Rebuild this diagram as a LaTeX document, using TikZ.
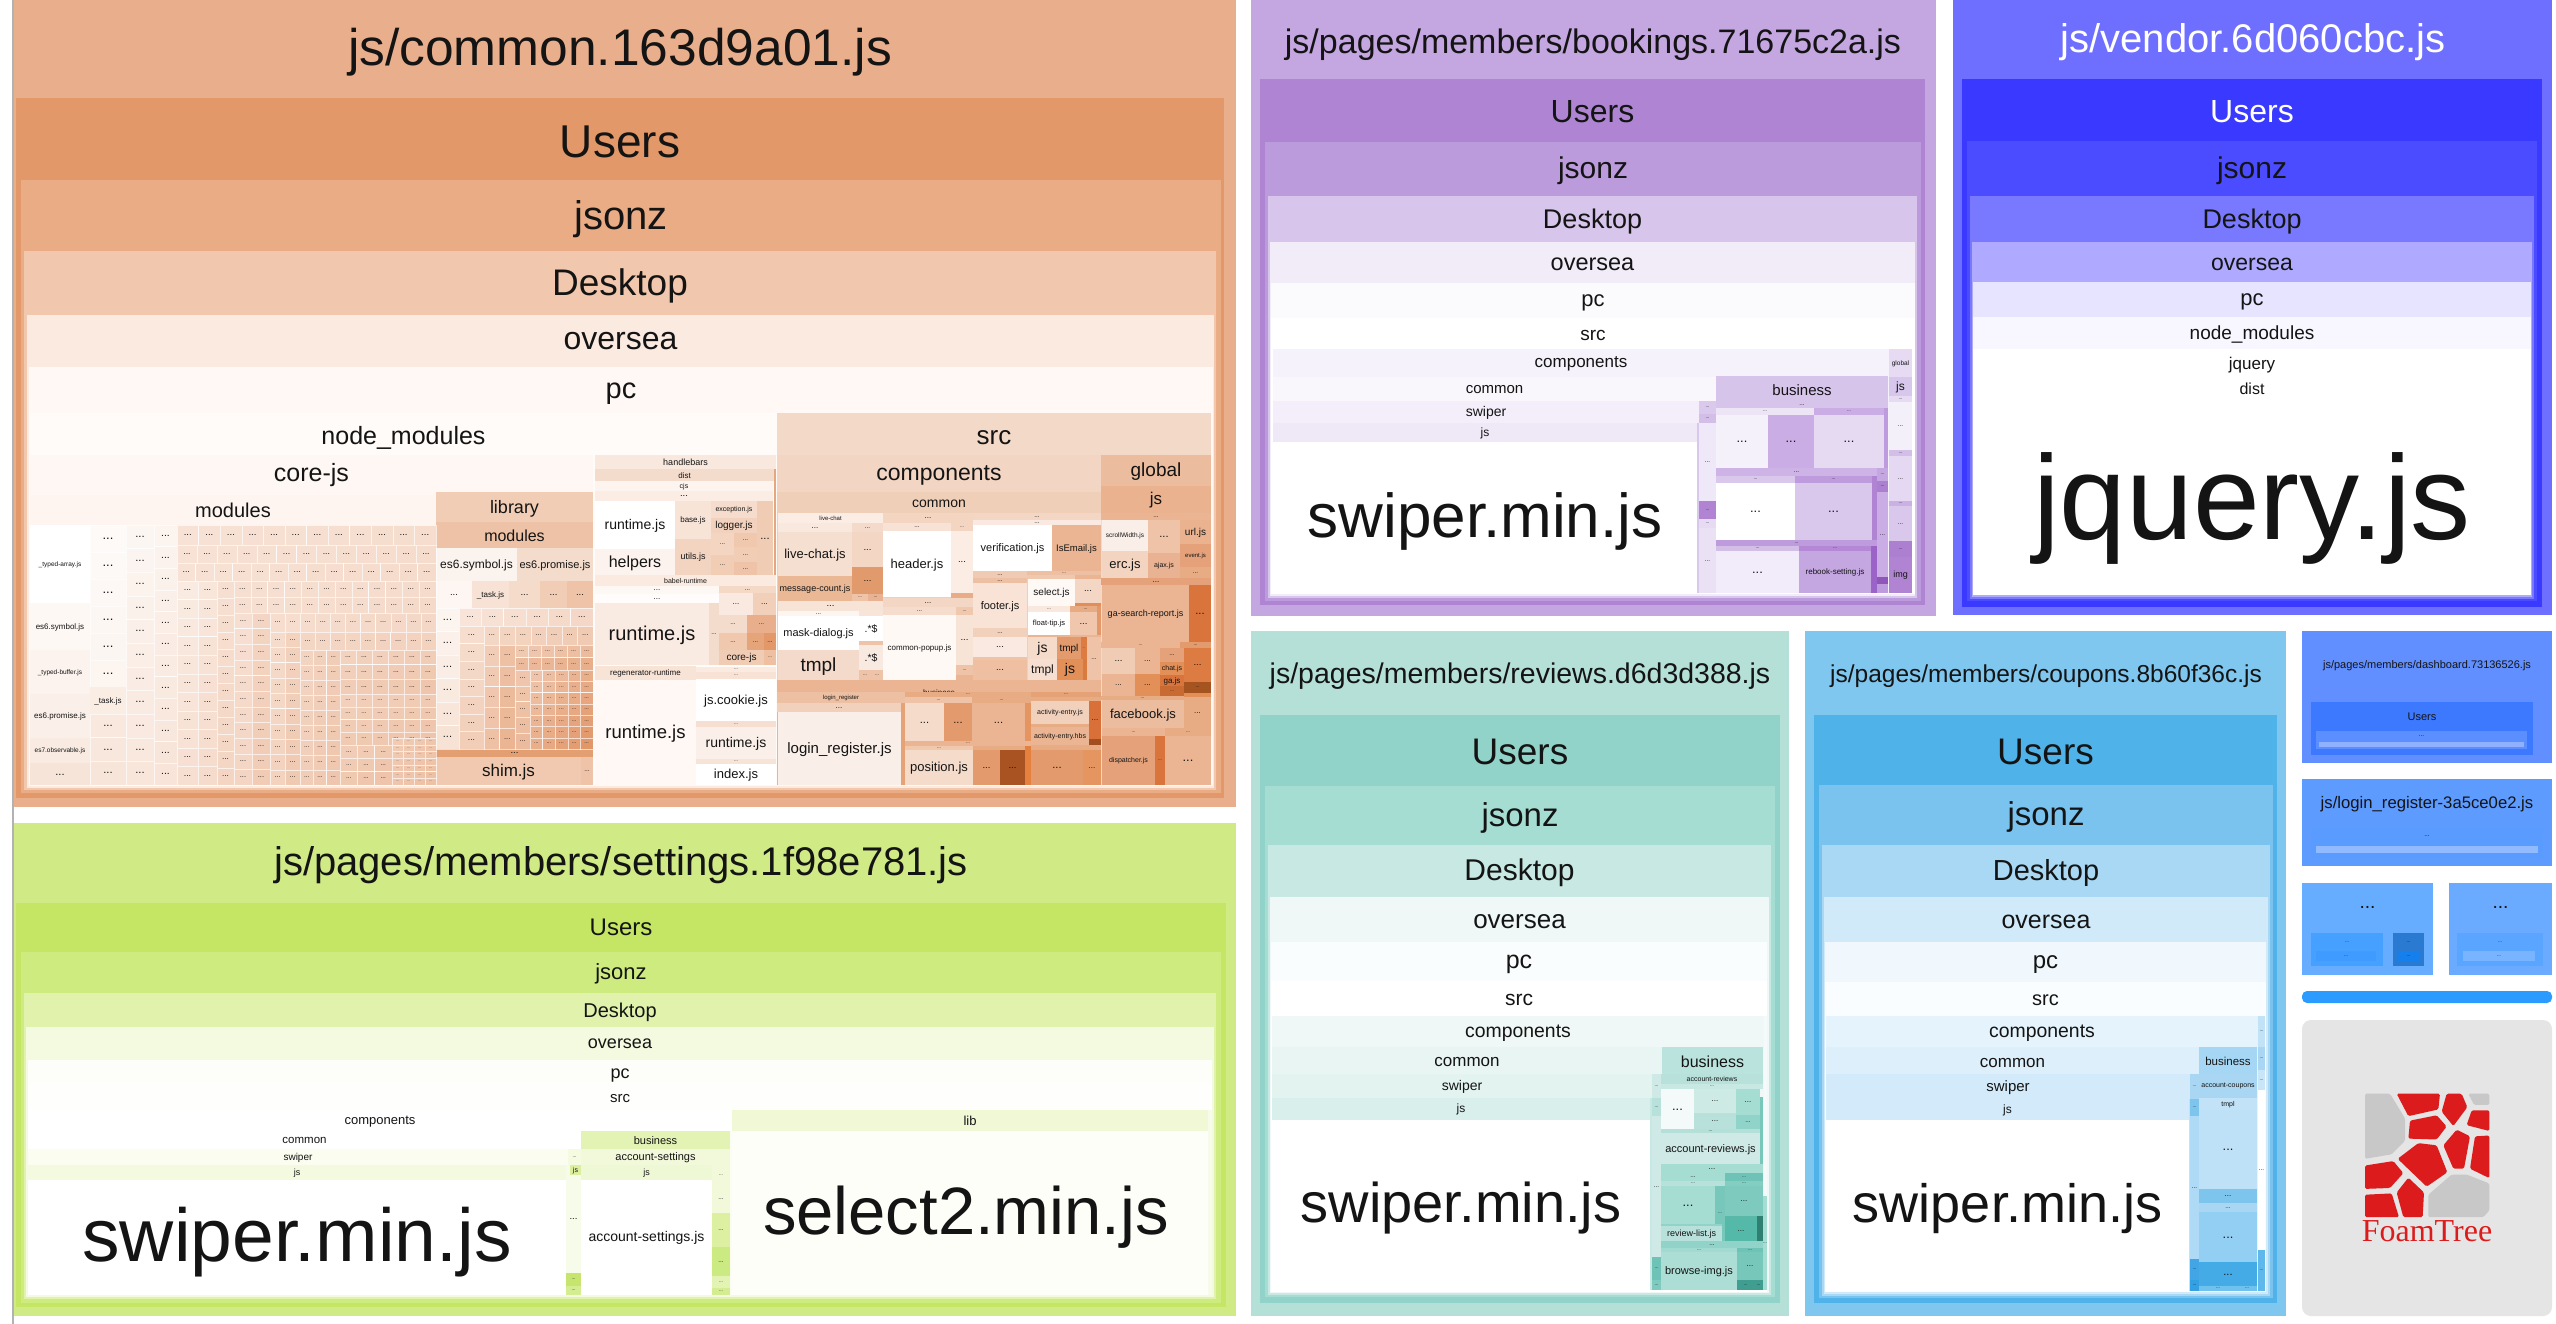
\documentclass[tikz,border=0pt]{standalone}
\usepackage{fontspec}
\setmainfont{Liberation Sans}
\newfontfamily\logofont{Liberation Serif}
\definecolor{gridtone}{HTML}{E08E5C}
\definecolor{foamred}{HTML}{DC1C1C}
\definecolor{foamgray}{HTML}{C8C8C8}
\definecolor{labtone}{HTML}{141414}
\definecolor{barblue}{HTML}{2B9BFF}
\tikzset{
    treelab/.style={inner sep=0pt,text=labtone},
    filelab/.style={inner sep=0pt,text=labtone},
    redcell/.style={fill=foamred,rounded corners=1.5pt},
    graycell/.style={fill=foamgray,rounded corners=1.5pt}
}
\def\dd{\fontsize{1.6em}{1.6em}\selectfont ...}
\newcommand{\cells}[1]{%
  \foreach \xa/\ya/\xb/\yb/\hd/\tone/\fs/\lab in {#1}{%
    \definecolor{celltone}{HTML}{\tone}%
    \fill[celltone] (\xa,\ya) rectangle (\xb,\yb);%
    \ifdim\fs pt>0pt\relax
      \pgfmathsetmacro\lx{(\xa+\xb)/2}%
      \pgfmathsetmacro\ly{(\hd>0 ? \ya+\hd/2 : (\ya+\yb)/2)+.06*\fs}%
      \node[treelab,font=\fontsize{\fs}{\fs}\selectfont] at (\lx,\ly) {\lab};%
    \fi
  }%
}
\newcommand{\treegrid}[8]{%
  \pgfmathsetmacro\cw{(#3-#1)/#5}%
  \pgfmathsetmacro\ch{(#4-#2)/#6}%
  \pgfmathsetmacro\gf{0.3*min(\cw,\ch)}%
  \pgfmathtruncatemacro\ncl{#5-1}%
  \pgfmathtruncatemacro\nrl{#6-1}%
  \foreach \i in {0,...,\ncl}{%
    \foreach \j in {0,...,\nrl}{%
      \pgfmathsetmacro\mixv{#7+(#8-#7)*(\i/max(\ncl,1)+\j/max(\nrl,1))/2}%
      \fill[gridtone!\mixv!white] ({#1+\i*\cw},{#2+\j*\ch}) rectangle ({#1+(\i+1)*\cw},{#2+(\j+1)*\ch});%
      \draw[white,draw opacity=.65,line width=.35pt] ({#1+\i*\cw},{#2+\j*\ch}) rectangle ({#1+(\i+1)*\cw},{#2+(\j+1)*\ch});%
      \node[treelab,font=\fontsize{\gf}{\gf}\selectfont] at ({#1+(\i+.5)*\cw},{#2+(\j+.5)*\ch}) {\dd};%
    }%
  }%
}
\begin{document}
\begin{tikzpicture}[x=1pt,y=-1pt]
\useasboundingbox (0,0) rectangle (2556,1324);
\fill[white] (0,0) rectangle (2556,1324);
\fill[gray!60] (12,0) rectangle (14,1324);
\cells{14/0/1236/807/0/E9AE8C/0/{},
16/98/1224/798/82/E29868/46/Users,
21/180/1221/793/74/E9AC84/40/jsonz,
24/251/1216/790/66/F1C8AE/37/Desktop,
27/315/1214/788/48/FBEAE0/32/oversea,
29/367/1213/786/50/FFF8F5/29/pc,
30/413/777/785/46/FFFBF9/25/node\_modules,
30/455/593/785/38/FEF7F3/25/core-js,
30/495/436/785/28/FEF5F0/20/modules,
436/492/593/522/32/F1CDB6/18/library,
436/522/593/548/26/EEC2A6/16/modules,
436/548/517/581/0/FBF3EE/12/es6.symbol.js,
517/548/593/581/0/F4DCCC/11/es6.promise.js,
30/525/90/603/0/FFFFFF/6.5/\_typed-array.js,
30/603/90/650/0/FEF8F5/8/es6.symbol.js,
30/650/90/694/0/FCF3EE/6.5/\_typed-buffer.js,
30/694/90/738/0/FAEFE9/8/es6.promise.js,
30/738/90/763/0/F9EBE2/6.5/es7.observable.js,
30/763/90/785/0/F7E4D8/7/\dd,
436/581/472/608/0/FDF6F2/6/\dd,
472/581/509/608/0/F7E2D5/8/\_task.js,
509/581/540/608/0/F5DBCA/6/\dd,
540/581/567/608/0/F1CDB6/6/\dd,
567/581/593/608/0/EEC3A7/6/\dd,
436/749/593/757/0/E39E72/6/\dd,
436/757/581/785/0/F0C9B0/17/shim.js,
581/757/593/785/0/EFC3A7/4/\dd}
\treegrid{90}{525}{126}{687}{1}{6}{4}{14}
\treegrid{90}{714}{126}{785}{1}{3}{20}{26}
\cells{90/687/126/714/0/FAEDE4/8/\_task.js}
\treegrid{126}{525}{154}{785}{1}{11}{8}{36}
\treegrid{154}{525}{177}{785}{1}{12}{10}{38}
\treegrid{177}{525}{436}{545}{12}{1}{26}{34}
\treegrid{177}{545}{436}{563}{13}{1}{26}{36}
\treegrid{177}{563}{436}{581}{14}{1}{26}{38}
\treegrid{177}{581}{198}{785}{1}{11}{18}{38}
\treegrid{198}{581}{217}{785}{1}{11}{22}{42}
\treegrid{217}{581}{234}{785}{1}{12}{28}{46}
\treegrid{234}{581}{436}{597}{12}{1}{28}{36}
\treegrid{234}{597}{436}{613}{12}{1}{28}{38}
\treegrid{234}{613}{270}{785}{2}{11}{28}{46}
\treegrid{270}{613}{436}{632}{11}{1}{30}{40}
\treegrid{270}{632}{300}{785}{2}{10}{32}{48}
\treegrid{300}{632}{436}{650}{9}{1}{36}{44}
\treegrid{300}{650}{340}{785}{3}{9}{38}{50}
\treegrid{340}{650}{436}{694}{6}{3}{40}{50}
\treegrid{340}{694}{436}{745}{6}{4}{42}{52}
\treegrid{340}{745}{392}{785}{3}{3}{44}{52}
\treegrid{392}{738}{436}{785}{4}{7}{46}{56}
\treegrid{436}{608}{459}{749}{1}{6}{10}{40}
\treegrid{459}{608}{593}{626}{6}{1}{24}{46}
\treegrid{459}{626}{484}{749}{1}{7}{30}{56}
\treegrid{484}{626}{593}{645}{7}{1}{36}{58}
\treegrid{484}{645}{515}{749}{2}{5}{44}{66}
\treegrid{515}{645}{593}{670}{6}{2}{48}{72}
\treegrid{515}{670}{530}{749}{1}{5}{50}{70}
\treegrid{530}{670}{593}{749}{5}{7}{52}{92}
\cells{595/455/776/469/0/F9E8DE/9/handlebars,
595/469/774/481/0/F4DCCC/8/dist,
774/469/776/575/0/E5A77F/0/{},
595/481/773/491/0/FDF4EF/7/cjs,
595/491/773/501/0/FBEDE4/6/\dd,
595/501/675/549/0/FFFFFF/14/runtime.js,
595/549/675/575/0/FDF3EE/16/helpers,
675/501/711/539/0/F8E3D7/8/base.js,
675/539/711/575/0/F2D4C0/9/utils.js,
711/501/757/518/0/F6DCCC/7/exception.js,
711/518/757/533/0/F2D2BE/10/logger.js,
711/533/734/555/0/F3D5C2/4/\dd,
711/555/734/575/0/F1CDB6/4/\dd,
734/533/757/547/0/F0C8AE/4/\dd,
734/547/757/562/0/F1CDB6/4/\dd,
734/562/757/575/0/EEC3A7/4/\dd,
757/501/773/575/0/F1CCB5/7/\dd,
595/575/776/586/0/FAEAE0/7/babel-runtime,
595/586/719/594/0/FEF8F5/5/\dd,
595/594/719/603/0/FFFCFB/5/\dd,
595/603/709/665/0/FAEBE2/20/runtime.js,
709/603/719/665/0/F4DCCC/4/\dd,
719/586/776/593/0/F5D9C7/4/\dd,
719/593/753/615/0/F9E9E0/5/\dd,
753/593/776/615/0/F2CFB8/5/\dd,
719/615/747/633/0/F4DCCC/4/\dd,
747/615/776/633/0/E9AE8C/4/\dd,
719/633/747/650/0/F0C8AE/4/\dd,
747/633/764/650/0/E6A47A/4/\dd,
764/633/776/650/0/E29868/4/\dd,
719/650/764/665/0/F1CCB5/10/core-js,
764/650/776/665/0/EEBFA1/3/\dd,
595/666/696/680/0/F8E3D7/8/regenerator-runtime,
595/680/696/785/0/FFF8F5/18.5/runtime.js,
696/667/776/672/0/FAEAE0/3/\dd,
696/672/776/679/0/F7E2D5/3/\dd,
696/679/776/721/0/FFFFFF/13/js.cookie.js,
696/721/776/727/0/F6DFD0/3/\dd,
696/727/776/759/0/FBEFE9/14/runtime.js,
696/759/776/764/0/F8E3D7/3/\dd,
696/764/776/785/0/FFFFFF/13/index.js}
\cells{777/413/1211/785/46/F3D9C7/26/src,
777/455/1101/680/38/F2D5C2/23/components,
777/492/1101/680/21/F0CFB8/14/common,
778/513/883/523/0/FBEDE4/6/live-chat,
778/523/852/532/0/F9E8DE/5/\dd,
852/523/883/532/0/F4DACB/4/\dd,
778/532/852/576/0/F5DFD0/13/live-chat.js,
852/532/883/567/0/F3D6C3/6/\dd,
852/567/883/594/0/E19A6C/6/\dd,
778/576/852/601/0/EBB896/9/message-count.js,
852/594/868/601/0/EFC3A7/3/\dd,
868/594/883/601/0/E9B292/3/\dd,
778/601/883/611/0/F8E3D7/6/\dd,
778/611/859/616/0/FDF5F0/4/\dd,
859/611/883/616/0/F8E4D8/0/{},
778/616/859/650/0/FFFFFF/11/mask-dialog.js,
778/650/859/680/0/F4DACA/19/tmpl,
859/616/883/641/0/FFFFFF/10.5/.*\$,
859/641/883/645/0/EFC3A7/0/{},
859/645/883/670/0/F9EAE1/10.5/.*\$,
859/670/871/680/0/EFC3A7/3/\dd,
871/670/883/680/0/EFC3A7/3/\dd,
883/513/973/523/0/F3D5C2/5/\dd,
883/523/951/531/0/F7E2D5/4/\dd,
951/523/973/531/0/F3D5C2/3/\dd,
883/531/951/597/0/FFFFFF/13/header.js,
951/531/973/593/0/FBEDE4/6/\dd,
951/593/973/598/0/E8AD86/0/{},
883/598/973/607/0/F3D6C3/5/\dd,
883/607/956/615/0/F6DCCC/4/\dd,
956/607/973/615/0/F0C8AE/3/\dd,
883/615/956/680/0/FFF9F6/8/common-popup.js,
956/615/973/665/0/F8E3D7/6/\dd,
956/665/973/675/0/EFC3A7/3/\dd,
956/675/973/680/0/EBB593/0/{},
973/513/1101/520/0/F3D6C3/4/\dd,
973/520/1101/525/0/F9E9E0/4/\dd,
973/525/1052/571/0/FFFFFF/11/verification.js,
1052/525/1101/571/0/EBB593/9.5/IsEmail.js,
973/571/1027/578/0/F0CBB3/4/\dd,
973/578/1027/583/0/EEC0A3/4/\dd,
973/583/1027/628/0/F8E3D6/11/footer.js,
973/628/1027/637/0/F2D1BC/4/\dd,
973/637/1027/657/0/F9E9E0/6/\dd,
973/657/1027/660/0/EFC3A7/0/{},
973/660/1027/680/0/EEBFA1/6/\dd,
1027/571/1101/575/0/EEC0A3/3/\dd,
1027/575/1075/579/0/F0C8AE/0/{},
1075/575/1101/579/0/EBB593/0/{},
1028/579/1075/606/0/FFF9F6/10/select.js,
1075/579/1101/603/0/F3D6C3/6/\dd,
1075/603/1101/606/0/E38E5A/0/{},
1028/606/1070/612/0/F9E8DE/3/\dd,
1070/606/1101/612/0/E8AC85/3/\dd,
1028/612/1070/635/0/FFFFFF/7.5/float-tip.js,
1070/612/1097/635/0/F0C7AD/6/\dd,
1097/606/1101/635/0/E29868/0/{},
1028/635/1101/637/0/EBB593/0/{},
1028/637/1057/659/0/F5DBCA/14/js,
1057/637/1081/659/0/E39A6C/10/tmpl,
1081/637/1087/659/0/DC7C43/2/\dd,
1087/637/1101/680/0/EFC3A7/4/\dd,
1028/659/1057/680/0/F6DFD0/12/tmpl,
1057/659/1083/680/0/E39058/14/js,
1083/659/1087/680/0/D97A3E/0/{},
777/680/1101/785/24/EBB593/8/business,
777/692/905/703/0/EEC0A3/6/login\_register,
777/703/901/712/0/F2D1BC/5/\dd,
778/712/901/785/0/F9EEE8/15/login\_register.js,
901/703/905/785/0/E5A277/0/{},
905/692/1031/697/0/E8AC85/3/\dd,
905/697/972/703/0/EFC3A7/3/\dd,
972/697/1031/703/0/E8AC85/3/\dd,
905/703/944/741/0/F5DBCA/7/\dd,
944/703/972/741/0/E39A6C/7/\dd,
972/703/1025/741/0/EBB593/7/\dd,
1025/703/1031/741/0/E5955F/0/{},
905/741/1031/746/0/EBB593/3/\dd,
905/746/973/750/0/F0C8AE/3/\dd,
973/746/1025/750/0/E8AC85/0/{},
905/750/973/785/0/F5DBCA/13/position.js,
973/750/1000/785/0/E39A6C/6/\dd,
1000/750/1025/785/0/A95322/6/\dd,
1025/746/1031/785/0/E5803F/0/{},
1031/692/1101/697/0/E5A277/3/\dd,
1031/697/1101/701/0/E8AC85/0/{},
1031/701/1089/724/0/F2D1BC/7/activity-entry.js,
1031/724/1089/727/0/E8AC85/0/{},
1089/701/1101/739/0/D9703A/5/\dd,
1089/739/1101/745/0/A34E1F/0/{},
1031/727/1089/745/0/EBB593/7/activity-entry.hbs,
1031/745/1101/750/0/E8AC85/0/{},
1031/750/1083/785/0/E39A6C/7/\dd,
1083/750/1101/785/0/E5955F/5/\dd,
1101/455/1211/486/0/EBBC9D/19/global,
1101/486/1211/513/0/EAB28F/17/js,
1101/513/1211/520/0/EBB593/4/\dd,
1102/520/1148/551/0/F9EEE8/6.5/scrollWidth.js,
1148/520/1180/553/0/EEC3A7/7/\dd,
1180/520/1211/544/0/EAB28F/10/url.js,
1180/544/1211/567/0/E5A27A/6/event.js,
1180/567/1211/578/0/E8AC85/4/\dd,
1102/551/1148/578/0/F2D4C0/13/erc.js,
1148/553/1180/578/0/E9B292/7/ajax.js,
1101/578/1211/585/0/E5A27A/5/\dd,
1102/585/1189/642/0/EBB593/9/ga-search-report.js,
1189/585/1211/642/0/D9743C/7/\dd,
1101/642/1180/648/0/EBB593/3/\dd,
1180/642/1211/648/0/E39A6C/3/\dd,
1102/648/1135/674/0/F1CCB5/6/\dd,
1135/648/1160/674/0/EBB593/5/\dd,
1160/648/1184/662/0/E5A27A/4/\dd,
1160/662/1184/675/0/E39058/7/chat.js,
1160/675/1184/686/0/D9743C/8/ga.js,
1160/686/1184/696/0/C96A32/3/\dd,
1184/648/1211/682/0/DC7C43/6/\dd,
1184/682/1211/693/0/A5531F/3/\dd,
1184/693/1211/697/0/E39058/0/{},
1102/674/1135/696/0/EBB593/5/\dd,
1135/674/1160/696/0/E39058/5/\dd,
1101/696/1184/700/0/E8AC85/3/\dd,
1102/700/1184/728/0/EBBC9D/13/facebook.js,
1184/697/1211/728/0/E8AC85/5/\dd,
1102/728/1165/736/0/EBB593/3/\dd,
1165/728/1211/736/0/E8AC85/3/\dd,
1102/736/1155/785/0/E5A27A/7/dispatcher.js,
1155/736/1165/785/0/D9743C/3/\dd,
1165/736/1211/785/0/EBB593/8/\dd}
\node[filelab,font=\fontsize{51.5}{51.5}\selectfont] (commonlab) at (620,52) {js/common.163d9a01.js};
\cells{14/823/1236/1316/0/D0EA86/0/{},
16/903/1226/1307/46/C4E664/24/Users,
21/952/1221/1303/40/CEEB80/22/jsonz,
24/993/1216/1299/36/E0F2AC/20/Desktop,
26/1027/1214/1297/32/F3FADF/18/oversea,
28/1060/1212/1295/28/FDFEFA/18/pc,
28/1083/1212/1295/30/FEFFFC/15/src,
28/1110/732/1295/22/FFFFFF/13/components,
732/1110/1208/1131/0/F0F8D6/13/lib,
1208/1110/1212/1295/0/F7FBE9/0/{},
732/1131/1200/1295/0/FDFEF8/67/select2.min.js,
1200/1131/1208/1295/0/FDFEF8/0/{},
28/1131/581/1149/0/FFFFFF/11.5/common,
581/1131/730/1149/0/E3F3B3/11/business,
28/1149/568/1165/0/FAFDEF/10/swiper,
568/1149/581/1165/0/F5FBE0/3/\dd,
581/1149/730/1165/0/F2F9DA/11/account-settings,
28/1165/566/1180/0/F3FADF/9/js,
28/1180/566/1295/0/FFFFFF/75/swiper.min.js,
566/1165/581/1273/0/F7FBE9/6/\dd,
570/1165/581/1175/0/DCEF9F/7/js,
566/1273/581/1286/0/C6E56E/3/\dd,
566/1286/581/1295/0/D3ED90/3/\dd,
581/1165/712/1180/0/EFF8D4/9/js,
581/1180/712/1295/0/FFFFFF/14/account-settings.js,
712/1165/730/1185/0/F2F9DA/3/\dd,
712/1185/730/1213/0/F2F9DA/4/\dd,
712/1213/730/1247/0/DDF0A2/4/\dd,
712/1247/730/1276/0/CCEA82/4/\dd,
730/1131/732/1295/0/FBFDF0/0/{},
712/1276/730/1288/0/E3F3B3/3/\dd,
712/1288/730/1295/0/D3ED90/3/\dd}
\node[filelab,font=\fontsize{40}{40}\selectfont] (settingslab) at (621,865) {js/pages/members/settings.1f98e781.js};
\cells{1251/0/1936/616/0/C4A6E0/0/{},
1260/79/1925/605/62/AF85D3/32/Users,
1265/142/1921/601/54/BC9BDC/30/jsonz,
1268/196/1917/598/48/D7C5EB/27/Desktop,
1270/242/1915/596/42/F1ECF8/23.5/oversea,
1271/283/1915/594/38/FBFAFD/22/pc,
1271/318/1915/594/32/FFFFFF/19/src,
1273/349/1889/593/28/F6F2FC/17/components,
1273/377/1716/401/0/F9F6FC/15/common,
1273/401/1699/423/0/F3EEF9/14/swiper,
1273/423/1697/442/0/EFE9F7/12/js,
1273/442/1697/593/0/FFFFFF/62/swiper.min.js,
1697/423/1699/593/0/D9C8EC/0/{},
1889/349/1912/377/0/E6DBF3/6.5/global,
1889/377/1912/396/0/D8C7EC/12/js,
1889/396/1912/402/0/E6DBF3/3/\dd,
1889/402/1912/450/0/F4F0FA/4/\dd,
1889/450/1912/456/0/D3BEE8/3/\dd,
1889/456/1912/501/0/E4D8F2/4/\dd,
1889/501/1912/506/0/CBB0E4/3/\dd,
1889/506/1912/541/0/D9C8EC/4/\dd,
1889/541/1912/557/0/AC7FD1/3/\dd,
1889/557/1912/593/0/B084D3/9/img,
1716/376/1888/402/0/D7C4EB/15/business,
1716/402/1888/408/0/D7C4EB/4/\dd,
1716/408/1814/415/0/EDE4F6/3/\dd,
1814/408/1884/415/0/C9ADE4/3/\dd,
1716/415/1768/468/0/F5F1FA/8/\dd,
1768/415/1814/468/0/C9ADE4/8/\dd,
1814/415/1884/468/0/E5DAF2/8/\dd,
1884/408/1888/468/0/BD9BDC/0/{},
1716/468/1877/476/0/CDB3E6/4/\dd,
1716/476/1795/483/0/D9C8EC/3/\dd,
1795/476/1872/483/0/BD9BDC/3/\dd,
1716/483/1795/540/0/FFFFFF/8/\dd,
1795/483/1872/540/0/D9C8EC/8/\dd,
1872/476/1877/540/0/B084D3/0/{},
1877/468/1888/481/0/C4A6E0/3/\dd,
1877/481/1888/492/0/AC7FD1/3/\dd,
1877/492/1888/577/0/C9ADE4/4/\dd,
1877/577/1888/584/0/8F55BB/0/{},
1877/584/1888/593/0/BD9BDC/0/{},
1716/540/1877/546/0/BD9BDC/3/\dd,
1716/546/1799/551/0/D3BEE8/3/\dd,
1799/546/1871/551/0/B588D6/3/\dd,
1716/551/1799/593/0/F2EBF9/8/\dd,
1799/551/1871/593/0/C4A6E0/8/rebook-setting.js,
1871/546/1877/593/0/9B63C7/0/{},
1699/401/1716/414/0/DAC9EC/3/\dd,
1699/414/1716/423/0/D3BEE8/3/\dd,
1699/423/1716/501/0/EFE8F8/4/\dd,
1699/501/1716/519/0/B084D3/3/\dd,
1699/519/1716/528/0/E6DBF3/3/\dd,
1699/528/1716/593/0/EBE1F5/4/\dd}
\node[filelab,font=\fontsize{34}{34}\selectfont] (bookingslab) at (1593,45) {js/pages/members/bookings.71675c2a.js};
\cells{1953/0/2552/615/0/6F6FFF/0/{},
1962/79/2542/607/0/3939FF/0/{},
1967/141/2537/601/56/4B4BFF/30/jsonz,
1970/196/2534/599/48/7979FF/27/Desktop,
1972/242/2532/597/42/AFAAFF/23/oversea,
1973/282/2531/595/38/E6E4FF/22/pc,
1973/317/2531/595/32/F8F7FF/19/node\_modules,
1973/349/2531/595/30/FFFFFF/17/jquery,
1973/378/2531/595/20/FFFFFF/16/dist,
1973/416/2531/586/0/FFFFFF/120/jquery.js}
\node[filelab,text=white,font=\fontsize{40}{40}\selectfont] (vendorlab) at (2253,42) {js/vendor.6d060cbc.js};
\node[filelab,text=white,font=\fontsize{32}{32}\selectfont] (vendorusers) at (2252,112) {Users};
\cells{1251/631/1789/1316/0/B4E0D8/0/{},
1260/715/1780/1303/70/91D3C9/37/Users,
1265/786/1775/1297/59/A6DDD3/33/jsonz,
1268/845/1771/1295/52/C7E8E3/30/Desktop,
1270/897/1769/1293/46/EFF8F6/26/oversea,
1271/942/1767/1292/42/FAFDFD/25/pc,
1271/981/1767/1292/36/FFFFFF/21/src,
1272/1016/1764/1290/32/EFF8F6/19.4/components,
1764/1016/1767/1196/0/F4FAF9/0/{},
1272/1047/1662/1074/28/E9F5F3/17/common,
1662/1047/1763/1074/0/BBE3DD/16/business,
1272/1074/1652/1098/0/E2F3F0/14/swiper,
1272/1098/1650/1120/0/D9EFEC/12/js,
1272/1120/1650/1290/0/FFFFFF/56/swiper.min.js,
1650/1098/1652/1290/0/C7E8E3/0/{},
1652/1074/1661/1098/0/CFEAE6/3/\dd,
1652/1098/1661/1116/0/B8E1DB/3/\dd,
1652/1116/1661/1257/0/CFEAE6/4/\dd,
1652/1257/1661/1280/0/6FC3B6/3/\dd,
1652/1280/1661/1290/0/7ECABE/3/\dd,
1661/1074/1763/1084/0/B8E1DB/7/account-reviews,
1661/1084/1763/1089/0/C7E8E3/3/\dd,
1661/1089/1694/1129/0/F3FAF9/8/\dd,
1694/1089/1736/1113/0/CDEAE5/5/\dd,
1694/1113/1736/1129/0/B8E1DB/5/\dd,
1736/1089/1760/1115/0/A6DDD3/5/\dd,
1736/1115/1760/1129/0/90D3C8/4/\dd,
1661/1129/1760/1133/0/B5E0D9/3/\dd,
1661/1133/1760/1164/0/CFEAE6/11/account-reviews.js,
1760/1097/1763/1164/0/78C7BB/0/{},
1661/1164/1763/1173/0/A6DDD3/5/\dd,
1661/1173/1725/1181/0/A6DDD3/4/\dd,
1661/1181/1725/1186/0/B8E1DB/3/\dd,
1725/1173/1763/1181/0/6FC3B6/3/\dd,
1725/1181/1763/1186/0/83CDC1/3/\dd,
1661/1186/1715/1224/0/A6DDD3/8/\dd,
1715/1186/1725/1241/0/78C7BB/3/\dd,
1725/1186/1763/1216/0/7ECABE/5/\dd,
1725/1216/1763/1220/0/5AB8A9/0/{},
1725/1220/1757/1241/0/54B9A9/5/\dd,
1757/1216/1763/1241/0/2F8073/0/{},
1661/1224/1722/1226/0/91D3C8/0/{},
1661/1226/1722/1241/0/B8E1DB/9/review-list.js,
1661/1241/1763/1248/0/91D3C8/4/\dd,
1661/1248/1737/1252/0/A0DAD0/3/\dd,
1737/1248/1763/1252/0/6FC3B6/3/\dd,
1661/1252/1737/1290/0/ACDED6/11/browse-img.js,
1737/1252/1763/1280/0/78C7BB/5/\dd,
1737/1280/1754/1290/0/3F9E90/3/\dd,
1754/1280/1763/1290/0/3F9E90/3/\dd,
1763/1196/1767/1290/0/A6DDD3/3/\dd}
\node[filelab,font=\fontsize{28.5}{28.5}\selectfont] (reviewslab) at (1520,676) {js/pages/members/reviews.d6d3d388.js};
\cells{1805/631/2286/1316/0/80C7EF/0/{},
1814/715/2277/1303/70/4FB3EA/37/Users,
1819/785/2273/1298/60/79C3EE/33/jsonz,
1822/845/2270/1296/52/A8D8F4/29/Desktop,
1824/897/2268/1294/46/D0EAF9/25/oversea,
1825/942/2266/1292/42/F0F8FD/24/pc,
1825/982/2266/1292/34/FAFDFF/20/src,
1826/1016/2258/1291/32/E4F3FC/19.4/components,
2258/1016/2265/1047/0/C1E2F7/3/\dd,
2258/1047/2265/1070/0/A9D7F3/3/\dd,
2258/1070/2265/1090/0/C8E6F8/3/\dd,
2258/1090/2265/1250/0/FFFFFF/4/\dd,
2258/1250/2265/1291/0/5FB8EC/3/\dd,
1826/1047/2199/1074/30/DCEFFB/17/common,
2199/1047/2257/1074/0/A5D7F4/11.5/business,
1826/1074/2190/1099/0/D2EAF9/15/swiper,
1826/1099/2189/1120/0/D2EAF9/12/js,
1826/1120/2189/1291/0/FFFFFF/54/swiper.min.js,
2189/1099/2190/1291/0/C1E2F7/0/{},
2190/1074/2199/1099/0/A9D7F3/3/\dd,
2190/1099/2199/1116/0/7EC5EE/3/\dd,
2190/1116/2199/1259/0/AEDAF5/4/\dd,
2190/1259/2199/1280/0/42A6E6/3/\dd,
2190/1280/2199/1291/0/33A0E3/3/\dd,
2199/1074/2257/1098/0/A9D7F3/7/account-coupons,
2199/1098/2257/1110/0/C1E2F7/7/tmpl,
2199/1110/2257/1189/0/BFE1F7/8/\dd,
2199/1189/2257/1203/0/7EC5EE/5/\dd,
2199/1203/2257/1212/0/A9D7F3/4/\dd,
2199/1212/2257/1262/0/93CFF2/8/\dd,
2199/1262/2257/1286/0/44ABE7/7/\dd,
2199/1286/2237/1291/0/6FC1EE/3/\dd,
2237/1286/2257/1291/0/6FC1EE/3/\dd}
\node[filelab,font=\fontsize{24.5}{24.5}\selectfont] (couponslab) at (2046,676) {js/pages/members/coupons.8b60f36c.js};
\cells{2302/631/2552/763/0/618FFF/0/{},
2311/702/2533/755/28/3D79FF/11/Users,
2316/731/2527/749/10/5B8EFF/4/\dd,
2319/742/2524/747/0/8FB1FF/0/{},
2302/779/2552/866/0/5E9BFF/0/{},
2311/828/2543/858/16/5A9BFF/4/\dd,
2316/846/2538/853/0/92BBFF/0/{},
2302/883/2433/975/48/66ADFF/12/\dd,
2311/933/2383/966/18/46A0FF/3/\dd,
2316/951/2376/961/0/3F9BFF/3/\dd,
2393/933/2424/966/18/2B7AD2/3/\dd,
2398/951/2419/961/0/167FEE/3/\dd,
2449/883/2552/975/48/6AAAFF/12/\dd,
2457/933/2543/966/18/5AA5FF/3/\dd,
2463/951/2535/961/0/78B4FF/3/\dd}
\node[filelab,font=\fontsize{11}{11}\selectfont] (dashboardlab) at (2427,666) {js/pages/members/dashboard.73136526.js};
\node[filelab,font=\fontsize{16.7}{16.7}\selectfont] (loginlab) at (2427,804) {js/login\_register-3a5ce0e2.js};
\fill[barblue,rounded corners=5pt] (2302,991) rectangle (2552,1003);
\fill[gray!20,rounded corners=9pt] (2302,1020) rectangle (2552,1316);
\begin{scope}[shift={(2240pt,-620pt)},x=0.3333pt,y=-0.449pt]
\fill[graycell] (375,1055) -- (450,1055) -- (495,1110) -- (495,1160) -- (455,1190) -- (375,1200) -- cycle;
\fill[redcell] (470,1055) -- (600,1055) -- (595,1090) -- (505,1105) -- cycle;
\fill[redcell] (620,1055) -- (665,1055) -- (682,1085) -- (640,1127) -- (605,1095) -- cycle;
\fill[graycell] (685,1055) -- (748,1055) -- (748,1080) -- (702,1080) -- cycle;
\fill[redcell] (695,1092) -- (748,1092) -- (748,1138) -- (680,1125) -- cycle;
\fill[redcell] (510,1115) -- (590,1103) -- (620,1128) -- (590,1157) -- (505,1155) -- cycle;
\fill[redcell] (650,1135) -- (690,1150) -- (672,1222) -- (640,1222) -- (610,1170) -- cycle;
\fill[redcell] (705,1150) -- (748,1148) -- (748,1243) -- (690,1222) -- cycle;
\fill[redcell] (535,1165) -- (590,1170) -- (622,1230) -- (560,1262) -- (473,1200) -- cycle;
\fill[redcell] (375,1215) -- (460,1205) -- (490,1232) -- (450,1265) -- (375,1267) -- cycle;
\fill[redcell] (375,1280) -- (455,1277) -- (477,1330) -- (375,1330) -- cycle;
\fill[redcell] (470,1275) -- (505,1242) -- (552,1275) -- (548,1330) -- (490,1330) -- cycle;
\fill[graycell] (565,1280) -- (635,1235) -- (680,1235) -- (748,1255) -- (748,1315) -- (730,1330) -- (565,1330) -- cycle;
\end{scope}
\node[filelab,text=foamred,font=\logofont\fontsize{32}{32}\selectfont] (foamlab) at (2427,1231) {FoamTree};
\end{tikzpicture}
\end{document}
